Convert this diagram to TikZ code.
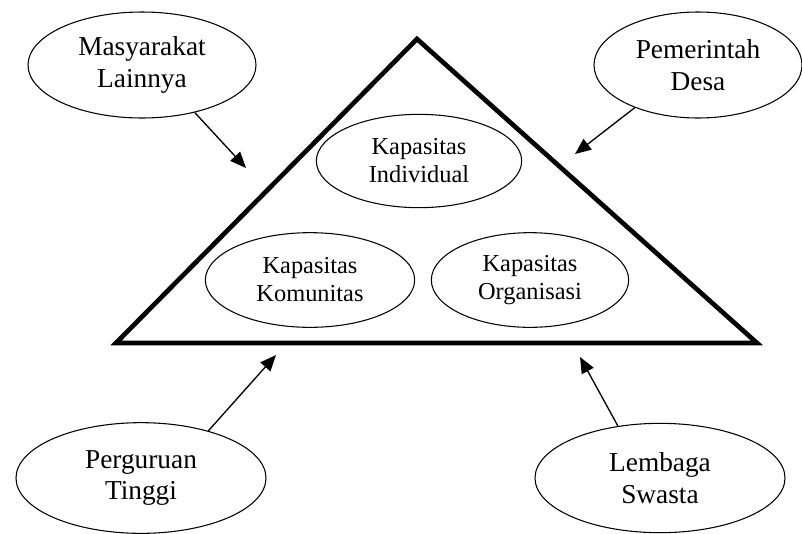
\documentclass[tikz,border=0pt]{standalone}
\usepackage{fontspec}
\setmainfont{Liberation Serif}
\usetikzlibrary{shapes.geometric,arrows.meta}
\begin{document}
\begin{tikzpicture}[x=.75pt,y=-.75pt,
    actor/.style={ellipse,draw,line width=.8pt,align=center,inner sep=0pt,
      font=\fontsize{20.5}{23.5}\selectfont},
    kap/.style={ellipse,draw,line width=.8pt,align=center,inner sep=0pt,
      font=\fontsize{18.3}{21}\selectfont},
    arr/.style={-{Triangle[length=12pt,width=10pt]},line width=1pt}]
  \useasboundingbox (0,0) rectangle (802,533);
  \draw[line width=3.5pt,line join=miter](417,39)--(757,343)--(116,343)--cycle;
  \node[kap,minimum width=154pt,minimum height=70pt](ind) at (419,161){Kapasitas\\Individual};
  \node[kap,minimum width=157pt,minimum height=71pt](kom) at (310,280){Kapasitas\\Komunitas};
  \node[kap,minimum width=148pt,minimum height=71pt](org) at (530,280){Kapasitas\\Organisasi};
  \node[actor,minimum width=171pt,minimum height=79.5pt](mas) at (142,65){Masyarakat\\Lainnya};
  \node[actor,minimum width=156pt,minimum height=79.5pt](pem) at (698,65){Pemerintah\\Desa};
  \node[actor,minimum width=187.5pt,minimum height=83pt](per) at (141,478){Perguruan\\Tinggi};
  \node[actor,minimum width=187.5pt,minimum height=82pt](lem) at (660,478){Lembaga\\Swasta};
  \coordinate (tmas) at (246,168);
  \coordinate (tpem) at (575,154);
  \coordinate (tper) at (276,355);
  \coordinate (tlem) at (580,357);
  \draw[arr](mas.-42)--(tmas);
  \draw[arr](pem.-146)--(tpem);
  \draw[arr](per.35)--(tper);
  \draw[arr](lem.129)--(tlem);
\end{tikzpicture}
\end{document}
